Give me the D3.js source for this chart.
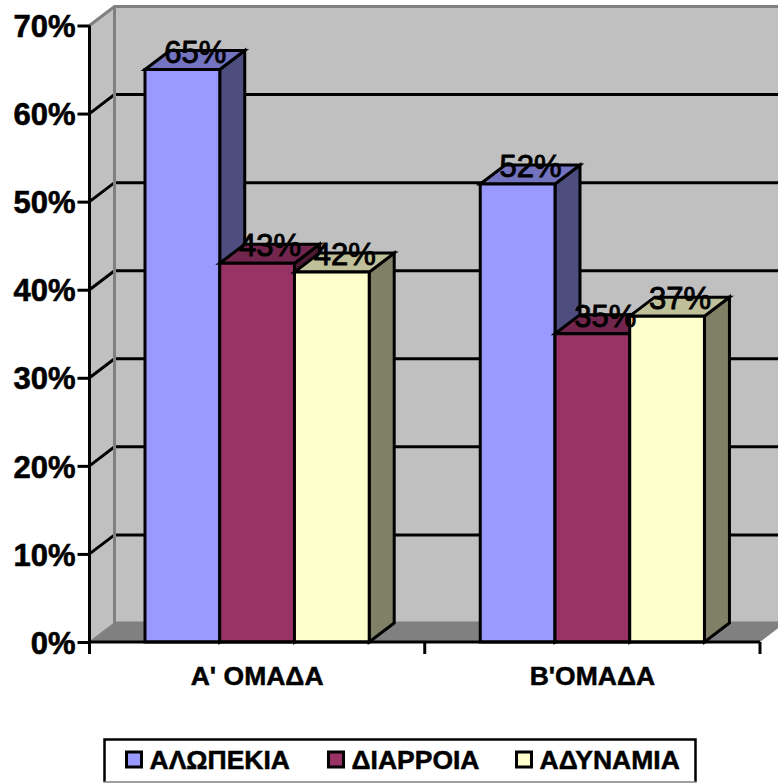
<!DOCTYPE html>
<html>
<head>
<meta charset="utf-8">
<script src="https://cdn.jsdelivr.net/npm/d3@7"></script>
<style>
html,body{margin:0;padding:0;background:#fff;overflow:hidden}
svg{display:block}
text{font-family:"Liberation Sans",Arial,sans-serif;fill:#000}
</style>
</head>
<body>
<svg id="chart" width="778" height="783"></svg>
<script>
// Chart data
const groups = ["Α' ΟΜΑΔΑ", "Β'ΟΜΑΔΑ"];
const seriesNames = ["ΑΛΩΠΕΚΙΑ", "ΔΙΑΡΡΟΙΑ", "ΑΔΥΝΑΜΙΑ"];
const alopekia = [65, 52];
const diarroia = [43, 35];
const adynamia = [42, 37];
const seriesValues = [alopekia, diarroia, adynamia];
const yTicks = [0, 10, 20, 30, 40, 50, 60, 70];

// Face colours: front, top (darkened), side (darker still)
const frontColors = ["#9999FF", "#993366", "#FFFFCC"];
const topColors = ["#7373BF", "#73264D", "#BFBF99"];
const sideColors = ["#4D4D80", "#4D1A33", "#808066"];

// Plot frame and the oblique offset of the 3D box
const left = 89.5, right = 760, floorY = 642, topY = 25.5;
const depthX = 25, depthY = -19;

const svg = d3.select("#chart");
const y = d3.scaleLinear().domain([0, 70]).range([floorY, topY]);
const x0 = d3.scaleBand().domain(groups).range([left, right]).paddingInner(0).paddingOuter(0);
const x1 = d3.scaleBand().domain(seriesNames)
  .range([55.5, 279.7]);

const line = d3.line();
const poly = (pts, fill, stroke, width) => svg.append("path")
  .attr("d", line(pts) + "Z")
  .attr("fill", fill)
  .attr("stroke", stroke)
  .attr("stroke-width", width)
  .attr("stroke-linejoin", "miter");

// Walls and floor
const backRight = right + depthX;
poly([[left, floorY], [left + depthX, floorY + depthY], [left + depthX, y(70) + depthY], [left, y(70)]], "#C0C0C0", "none", 0);
poly([[left + depthX, floorY + depthY], [backRight, floorY + depthY], [backRight, y(70) + depthY], [left + depthX, y(70) + depthY]], "#C0C0C0", "none", 0);
poly([[left, floorY], [right, floorY], [backRight, floorY + depthY], [left + depthX, floorY + depthY]], "#808080", "none", 0);

// Gridlines along the side wall and back wall
yTicks.filter(t => t > 0 && t < 70).forEach(t => {
  svg.append("path")
    .attr("d", line([[left, y(t)], [left + depthX, y(t) + depthY], [backRight, y(t) + depthY]]))
    .attr("fill", "none").attr("stroke", "#000").attr("stroke-width", 3);
});

// Grey edges of the walls
const edge = (pts, w) => svg.append("path").attr("d", line(pts))
  .attr("fill", "none").attr("stroke", "#808080").attr("stroke-width", w);
edge([[left, y(70)], [left + depthX, y(70) + depthY], [backRight, y(70) + depthY]], 3);
edge([[left + depthX, y(70) + depthY], [left + depthX, floorY + depthY], [backRight, floorY + depthY]], 3);
edge([[left, floorY], [left + depthX, floorY + depthY]], 1.5);

// Bars, left to right so each front face overlaps its neighbour's side
groups.forEach((g, gi) => {
  seriesNames.forEach((s, si) => {
    const v = seriesValues[si][gi];
    const xa = x0(g) + x1(s), xb = xa + x1.bandwidth();
    const yt = y(v), yb = y(0);
    poly([[xb, yb], [xb + depthX, yb + depthY], [xb + depthX, yt + depthY], [xb, yt]], sideColors[si], "#000", 3);
    poly([[xa, yt], [xa + depthX, yt + depthY], [xb + depthX, yt + depthY], [xb, yt]], topColors[si], "#000", 3);
    poly([[xa, yb], [xa, yt], [xb, yt], [xb, yb]], frontColors[si], "#000", 3);
  });
});

// Value labels sit over the bar tops
groups.forEach((g, gi) => {
  seriesNames.forEach((s, si) => {
    const v = seriesValues[si][gi];
    svg.append("text")
      .attr("x", x0(g) + x1(s) + x1.bandwidth() / 2 + 13)
      .attr("y", y(v) - 7)
      .attr("text-anchor", "middle")
      .attr("font-size", 31)
      .attr("stroke", "#000").attr("stroke-width", 0.9)
      .text(v + "%");
  });
});

// Axes
const yAxis = d3.axisLeft(y).tickValues(yTicks).tickFormat(d => d + "%").tickSize(12).tickPadding(2);
const gy = svg.append("g").attr("transform", `translate(${left},0)`).call(yAxis);
gy.select(".domain").attr("stroke", "#000").attr("stroke-width", 3).attr("d", `M0,${y(70)}V${floorY}`);
gy.selectAll(".tick line").attr("stroke", "#000").attr("stroke-width", 3);
gy.selectAll(".tick text").attr("font-size", 31).attr("font-weight", "bold")
  .attr("stroke", "#000").attr("stroke-width", 0.6)
  .attr("font-family", "'Liberation Sans',Arial,sans-serif").attr("fill", "#000").attr("dy", "0.36em");

const xAxis = d3.axisBottom(x0).tickSize(0).tickPadding(24);
const gx = svg.append("g").attr("transform", `translate(0,${floorY})`).call(xAxis);
gx.select(".domain").attr("stroke", "#000").attr("stroke-width", 3).attr("d", `M${left},0H${right}`);
gx.selectAll(".tick text").attr("font-size", 26.5).attr("font-weight", "bold")
  .attr("stroke", "#000").attr("stroke-width", 0.5)
  .attr("font-family", "'Liberation Sans',Arial,sans-serif").attr("fill", "#000");
gx.selectAll(".boundary").data(d3.range(groups.length + 1)).join("line")
  .attr("class", "boundary")
  .attr("x1", i => left + i * x0.step()).attr("x2", i => left + i * x0.step())
  .attr("y1", 0).attr("y2", 12)
  .attr("stroke", "#000").attr("stroke-width", 3);

// Legend box with a lighter bottom edge
const legend = svg.append("g");
legend.append("path").attr("d", "M104.5,782V739.5H695.5V782")
  .attr("fill", "#fff").attr("stroke", "#000").attr("stroke-width", 2.5);
legend.append("path").attr("d", "M103.5,782H696.5")
  .attr("stroke", "#808080").attr("stroke-width", 1.5);
const legendKeyX = [126.5, 328.5, 516.5];
seriesNames.forEach((s, i) => {
  legend.append("rect").attr("x", legendKeyX[i]).attr("y", 752).attr("width", 15).attr("height", 15)
    .attr("fill", frontColors[i]).attr("stroke", "#000").attr("stroke-width", 3);
  legend.append("text").attr("x", legendKeyX[i] + 23).attr("y", 768.5)
    .attr("font-size", 26.5).attr("font-weight", "bold")
    .attr("stroke", "#000").attr("stroke-width", 0.5).text(s);
});
</script>
</body>
</html>
